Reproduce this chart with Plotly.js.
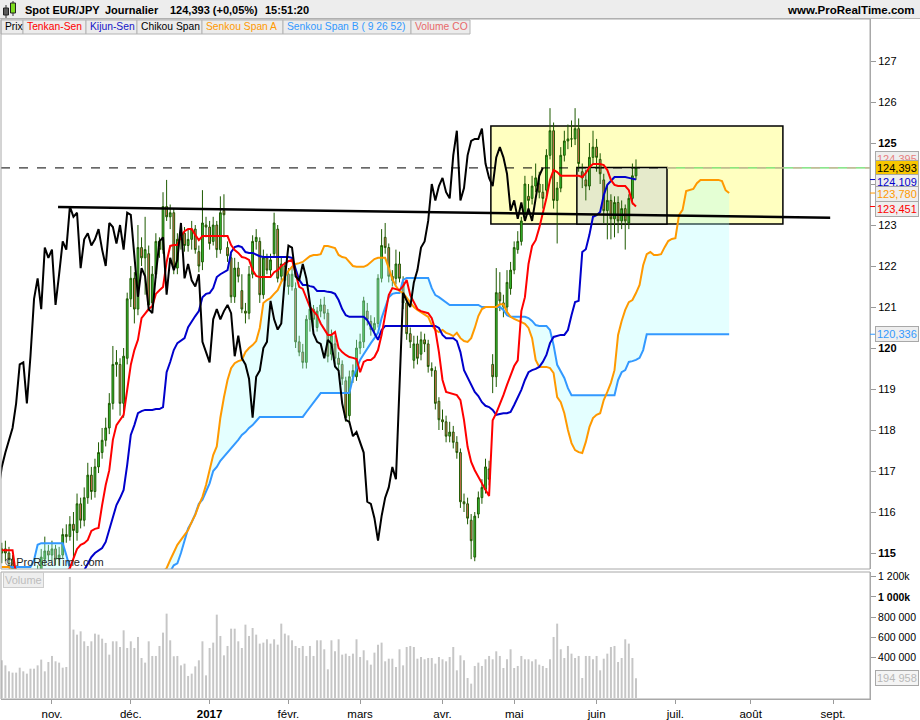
<!DOCTYPE html>
<html><head><meta charset="utf-8">
<script src="https://cdn.plot.ly/plotly-3.0.1.min.js"></script>
<style>html,body{margin:0;padding:0;background:#fff}#chart{width:920px;height:720px}</style>
</head><body><div id="chart"></div>
<script>
// ---------- DATA (EUR/JPY daily) ----------
const startDate = '2016-10-12';
const monthNames = ['janv.','févr.','mars','avr.','mai','juin','juil.','août','sept.','oct.','nov.','déc.'];

const openP = [
115.0,115.1,115.0,114.85,114.6,114.4,114.3,114.5,114.2,114.0,
114.3,114.6,114.85,115.05,114.95,115.1,114.85,114.95,115.45,115.4,
115.7,115.5,116.2,115.8,116.35,116.9,116.5,117.1,117.45,117.75,
118.05,118.65,119.6,119.6,118.65,119.75,121.2,121.7,120.95,122.45,
122.2,122.3,121.1,121.8,122.6,122.4,123.45,123.2,123.3,121.95,
122.65,122.8,122.5,122.65,122.9,122.35,122.1,123.0,122.95,122.6,
123.0,122.4,123.35,122.45,122.2,121.25,121.95,121.4,120.9,120.85,
121.8,122.6,122.6,121.3,122.2,121.9,122.3,122.9,121.75,122.0,
121.8,121.5,121.45,120.15,119.9,119.65,120.7,120.95,120.5,120.9,
121.05,120.85,119.85,120.1,119.75,119.6,119.2,118.35,119.3,119.3,
120.0,120.15,120.9,120.65,120.45,120.6,121.7,122.7,122.45,121.75,
121.7,122.05,121.6,121.1,120.35,119.7,120.1,119.85,120.2,120.1,
119.5,119.45,118.7,118.25,118.2,117.85,117.95,117.7,117.45,116.25,
116.2,115.8,114.9,115.95,116.35,116.55,117.05,119.6,119.3,121.35,
121.1,121.0,121.45,121.9,122.4,122.6,123.25,123.7,123.65,123.95,
124.0,123.8,123.85,124.7,125.3,123.6,123.9,124.7,125.05,125.1,
125.1,125.35,124.3,124.1,123.95,124.65,124.9,124.6,124.1,123.35,
123.6,123.15,123.55,123.1,123.4,123.05,123.65,124.2];
const highP = [
115.25,115.3,115.15,114.95,114.7,114.55,114.6,114.6,114.35,114.4,
114.7,115.1,115.4,115.2,115.3,115.2,115.15,115.6,115.7,115.9,
116.0,116.45,116.35,116.6,117.2,117.1,117.3,117.7,118.05,118.3,
118.9,120.05,119.95,119.75,120.0,121.35,122.0,121.85,123.0,122.7,
123.2,122.5,122.0,122.8,122.7,123.8,124.1,123.5,123.4,122.8,
123.0,122.95,122.9,123.1,123.0,122.5,123.85,123.2,123.1,123.2,
123.1,123.7,123.75,122.6,122.3,122.2,122.1,121.8,121.1,122.0,
122.75,122.9,122.7,122.4,122.3,122.3,123.3,123.0,122.2,122.1,
121.95,122.0,121.6,120.3,120.1,120.8,121.1,121.05,121.0,121.2,
121.25,120.95,120.45,120.3,119.9,119.7,119.3,119.45,119.6,120.2,
120.35,121.25,121.1,120.8,120.75,121.8,122.9,123.05,122.55,121.9,
122.4,122.35,121.75,121.2,120.5,120.3,120.3,120.4,120.35,120.2,
119.65,119.55,118.8,118.5,118.35,118.2,118.1,117.85,117.55,116.45,
116.35,115.95,116.0,116.5,116.8,117.3,117.25,119.85,121.95,121.85,
121.3,121.9,122.1,122.6,122.85,123.2,124.2,124.0,124.2,124.5,
124.3,124.0,124.85,125.85,125.5,124.05,124.9,125.3,125.45,125.55,
125.85,125.6,124.5,124.35,125.0,125.3,125.1,124.75,124.25,123.95,
123.75,123.7,123.7,123.6,123.5,123.75,124.5,124.6];
const lowP = [
114.75,114.8,114.7,114.4,114.2,114.1,114.1,114.0,113.8,113.9,
114.2,114.5,114.7,114.8,114.8,114.7,114.7,114.85,115.25,115.3,
114.8,115.3,115.6,115.65,116.2,116.3,116.35,116.95,117.3,117.6,
117.9,118.5,119.3,118.35,118.3,119.6,121.0,120.6,120.8,122.0,
121.3,120.9,120.9,121.7,122.2,122.3,123.1,122.9,121.8,121.8,
122.4,122.35,122.35,122.4,122.3,121.85,121.9,122.7,122.4,122.5,
122.2,122.3,122.7,122.1,121.1,121.1,121.6,120.85,120.6,120.7,
121.7,122.4,121.1,121.2,121.8,121.75,122.2,121.6,121.6,121.5,
121.3,121.4,120.0,119.8,119.5,119.5,120.4,120.5,120.4,120.75,
120.7,119.65,119.7,119.6,119.45,119.1,118.2,118.15,119.15,119.2,
119.85,120.0,120.55,120.3,120.3,120.5,121.6,122.3,121.6,121.5,
121.55,121.6,120.95,120.2,120.0,119.5,119.6,119.7,119.9,119.4,
119.3,118.5,118.0,118.0,117.7,117.7,117.55,117.3,116.1,116.0,
115.7,114.85,114.8,115.85,116.2,116.45,116.65,118.9,119.05,120.9,
120.75,120.85,121.3,121.8,122.3,122.5,123.1,123.3,123.5,123.8,
123.65,123.4,123.7,124.6,123.4,122.55,123.8,124.55,124.85,124.9,
124.95,124.3,123.9,123.6,123.85,124.5,124.3,124.0,123.05,122.65,
122.65,122.7,122.8,122.9,122.4,122.9,123.5,124.1];
const closeP = [
115.1,115.0,114.85,114.6,114.4,114.3,114.5,114.2,114.0,114.3,
114.6,114.9,115.05,114.95,115.1,114.85,114.95,115.45,115.4,115.7,
115.55,116.2,115.8,116.35,116.9,116.5,117.1,117.45,117.75,118.05,
118.65,119.6,119.65,118.65,119.8,121.2,121.7,120.95,122.45,122.2,
122.4,121.05,121.8,122.6,122.4,123.45,123.2,123.3,121.95,122.65,
122.8,122.5,122.65,122.9,122.4,122.0,123.05,122.95,122.55,123.0,
122.4,123.3,123.25,122.25,121.25,121.95,121.75,120.95,120.85,121.8,
122.6,122.7,121.3,122.2,121.9,122.15,123.05,121.7,122.05,121.65,
121.5,121.8,120.15,119.9,119.65,120.7,120.95,120.7,120.9,121.05,
120.85,119.8,120.3,119.75,119.6,119.25,118.3,119.3,119.45,120.0,
120.15,121.15,120.7,120.45,120.6,121.7,122.5,122.45,121.75,121.65,
122.05,121.7,121.1,120.35,120.15,120.1,119.75,120.2,120.1,119.55,
119.45,118.65,118.25,118.2,117.85,117.95,117.7,117.45,116.25,116.2,
115.85,115.3,115.9,116.35,116.6,117.1,116.8,119.3,121.35,121.15,
121.0,121.6,121.9,122.45,122.6,123.1,124.0,123.6,123.95,124.15,
123.8,123.65,124.7,125.3,123.6,123.9,124.7,125.05,125.1,125.1,
125.35,124.5,124.15,123.95,124.65,124.9,124.65,124.25,123.35,123.6,
123.15,123.55,123.1,123.4,123.1,123.65,124.2,124.393];

const tenkan = [
115.07,115.07,115.07,115.07,114.45,114.4,114.35,114.3,114.3,114.25,
114.25,114.3,114.35,114.4,114.4,114.45,114.45,114.5,114.55,114.63,
114.88,115.1,115.2,115.24,115.32,115.54,115.59,115.61,116.17,116.66,
117.02,117.76,118.12,118.24,118.37,118.98,119.59,119.95,120.2,120.73,
120.83,120.95,121.02,121.32,121.41,121.49,122.1,122.49,122.51,122.51,
122.73,122.85,122.9,122.9,122.76,122.63,122.73,122.73,122.73,122.73,
122.73,122.73,122.73,122.73,122.51,122.39,122.32,122.22,122.2,122.15,
121.9,121.76,121.73,121.73,121.73,121.73,121.85,121.9,122.0,122.07,
122.12,122.15,121.78,121.49,121.44,121.22,121.0,120.9,120.8,120.6,
120.45,120.32,120.32,120.39,120.0,119.9,119.83,119.78,119.76,119.73,
119.41,119.66,119.71,119.71,119.78,119.95,120.32,120.8,121.29,121.46,
121.44,121.41,121.51,121.66,121.29,121.1,120.95,120.9,120.88,120.85,
120.73,120.44,119.9,119.22,118.93,118.9,118.88,118.85,118.73,118.24,
117.59,117.22,117.02,116.85,116.71,116.54,116.39,118.24,118.41,118.61,
118.85,119.1,119.34,119.56,119.7,120.9,121.24,122.05,122.49,122.63,
122.93,123.29,123.66,124.1,124.34,124.29,124.2,124.2,124.2,124.2,
124.2,124.2,124.17,124.27,124.41,124.49,124.49,124.49,124.46,124.34,
124.1,123.98,123.95,123.95,123.95,123.85,123.54,123.451];

const kijun = [
114.45,114.45,114.45,114.45,114.45,114.45,114.4,114.4,114.4,114.35,
114.35,114.35,114.35,114.35,114.35,114.35,114.35,114.35,114.35,114.35,
114.4,114.45,114.5,114.58,114.76,114.9,115.0,115.05,115.12,115.27,
115.56,115.88,116.17,116.34,116.54,117.15,117.88,118.12,118.41,118.46,
118.49,118.49,118.49,118.51,118.51,118.56,119.41,119.66,119.95,120.12,
120.17,120.24,120.51,120.66,120.78,120.9,121.24,121.32,121.34,121.46,
121.73,121.8,121.85,121.9,122.34,122.46,122.49,122.46,122.34,122.32,
122.32,122.27,122.24,122.22,122.22,122.22,122.22,122.22,122.22,122.22,
122.22,122.2,121.95,121.66,121.54,121.54,121.51,121.49,121.39,121.39,
121.39,121.37,121.36,121.32,121.17,120.95,120.8,120.76,120.76,120.76,
120.76,120.76,120.68,120.51,120.37,120.2,120.44,120.54,120.54,120.54,
120.54,120.54,120.54,120.54,120.54,120.54,120.54,120.54,120.54,120.54,
120.54,120.54,120.49,120.32,120.24,120.24,120.24,120.17,119.9,119.46,
119.29,119.1,118.93,118.83,118.68,118.59,118.56,118.49,118.37,118.39,
118.41,118.41,118.44,118.61,118.78,118.98,119.22,119.41,119.46,119.49,
119.54,119.66,119.83,120.12,120.27,120.29,120.32,120.32,120.44,120.8,
121.12,121.15,122.34,122.41,122.76,123.2,123.24,123.32,123.73,123.98,
124.07,124.17,124.17,124.17,124.17,124.15,124.12,124.109];

const senkouA = [
114.66,114.66,114.66,114.5,114.45,114.4,114.35,114.3,114.3,114.25,
114.25,114.2,114.2,114.2,114.2,114.2,114.2,114.2,114.2,114.2,
114.2,114.2,114.2,114.2,114.2,114.2,114.2,114.2,114.2,114.2,
114.2,114.2,114.2,114.25,114.3,114.3,114.3,114.35,114.35,114.4,
114.4,114.45,114.45,114.5,114.5,114.55,114.63,114.83,115.02,115.2,
115.32,115.44,115.56,115.76,115.93,116.17,116.37,116.66,117.02,117.39,
117.6,118.3,118.8,119.22,119.51,119.63,119.68,119.71,119.9,120.0,
120.07,120.17,120.49,121.1,121.17,121.22,121.32,121.41,121.61,121.76,
121.88,121.98,122.05,122.07,122.1,122.17,122.24,122.27,122.27,122.29,
122.49,122.49,122.46,122.44,122.27,122.22,122.2,122.1,122.0,121.98,
121.98,121.98,122.02,122.1,122.17,122.2,122.2,122.2,121.95,121.68,
121.51,121.39,121.34,121.22,121.1,121.0,120.93,120.88,120.83,120.76,
120.56,120.44,120.39,120.44,120.37,120.34,120.29,120.37,120.24,120.17,
120.15,120.24,120.49,120.78,120.95,121.0,121.0,121.0,121.0,121.07,
121.07,120.88,120.76,120.71,120.66,120.63,120.59,120.49,120.24,119.71,
119.54,119.54,119.54,119.51,119.39,118.8,118.68,118.41,118.0,117.68,
117.51,117.46,117.44,117.71,118.07,118.29,118.37,118.41,118.73,118.93,
119.15,119.46,120.32,120.66,120.93,121.12,121.17,121.34,121.54,122.02,
122.29,122.34,122.27,122.27,122.29,122.46,122.61,122.66,122.68,123.24,
123.37,123.83,123.85,123.88,124.02,124.1,124.1,124.1,124.1,124.1,
124.1,124.07,123.85,123.78];

const senkouB = [
114.66,114.66,114.66,114.66,114.66,114.66,114.66,114.66,114.66,114.83,
115.2,115.24,115.24,115.24,115.24,115.24,115.24,115.24,114.95,114.63,
114.4,114.4,114.4,114.4,114.4,114.4,114.4,114.4,114.4,114.4,
114.4,114.4,114.4,114.4,114.4,114.4,114.4,114.4,114.4,114.4,
114.4,114.4,114.45,114.45,114.5,114.5,114.55,114.55,114.7,114.75,
115.0,115.3,115.6,115.75,115.95,116.2,116.3,116.5,116.7,117.0,
117.1,117.25,117.35,117.45,117.55,117.65,117.76,117.88,117.95,118.05,
118.12,118.22,118.32,118.32,118.32,118.32,118.32,118.32,118.32,118.32,
118.32,118.32,118.32,118.32,118.32,118.44,118.56,118.66,118.78,118.9,
118.9,118.9,118.9,118.9,118.9,118.9,118.9,118.9,119.27,119.51,
119.71,119.85,120.0,120.12,120.24,120.37,120.73,121.0,121.24,121.32,
121.34,121.34,121.66,121.71,121.71,121.71,121.71,121.71,121.71,121.71,
121.46,121.29,121.24,121.17,121.1,121.05,121.05,121.05,121.05,121.05,
121.05,121.05,121.05,121.05,121.0,121.0,121.0,121.0,121.0,121.0,
120.93,120.8,120.76,120.76,120.76,120.76,120.76,120.73,120.66,120.56,
120.54,120.54,120.54,120.44,120.07,119.59,119.41,119.27,119.02,118.85,
118.85,118.85,118.85,118.85,118.85,118.85,118.85,118.85,118.85,118.85,
118.85,118.85,119.22,119.41,119.46,119.66,119.68,119.71,119.76,119.95,
120.336,120.336,120.336,120.336,120.336,120.336,120.336,120.336,120.336,120.336,
120.336,120.336,120.336,120.336,120.336,120.336,120.336,120.336,120.336,120.336,
120.336,120.336,120.336,120.336];

// volume in thousands
const volumeK = [
373,323,264,251,251,300,264,241,290,290,
323,380,264,356,416,363,350,300,307,1198,
677,627,660,561,515,561,637,627,587,545,
429,561,561,505,670,495,561,495,604,396,
350,561,416,416,515,647,835,571,413,416,
323,340,218,241,313,373,561,224,495,548,
825,614,422,515,686,686,561,495,726,614,
693,627,538,548,581,538,581,528,736,637,
620,571,515,495,515,416,515,416,571,571,
482,284,571,462,581,429,439,416,439,581,
406,472,373,330,449,528,548,363,389,389,
307,482,323,505,515,505,389,406,383,396,
396,340,406,383,363,406,505,274,422,373,
198,142,317,350,317,383,416,383,462,416,
297,383,482,297,317,416,383,383,363,383,
330,317,297,383,604,736,482,396,515,439,
396,416,198,416,416,383,416,274,389,439,
505,515,356,396,581,538,396,194.958];

const priceTicks = [115,116,117,118,119,120,121,122,123,124,125,126,127];
const priceTickText = ['<b>115</b>','116','117','118','119','<b>120</b>','121','122','123','','<b>125</b>','126','127'];
const volTicks = [400,600,800,1000,1200];
const volTickText = ['400 000','600 000','800 000','<b>1 000k</b>','1 200k'];
const chikouShift = 26;

// ---------- calendar (weekdays) ----------
function weekdays(start, count){
  const out=[]; const d=new Date(start+'T00:00:00Z');
  while(out.length<count){ const wd=d.getUTCDay(); if(wd!==0&&wd!==6) out.push(new Date(d)); d.setUTCDate(d.getUTCDate()+1); }
  return out;
}
const cal = weekdays(startDate, 260);
const tickVals=[], tickText=[];
for(let i=1;i<cal.length;i++){
  if(cal[i].getUTCMonth()!==cal[i-1].getUTCMonth()){
    const m=cal[i].getUTCMonth();
    tickVals.push(i);
    tickText.push(m===0 ? '<b>'+cal[i].getUTCFullYear()+'</b>' : monthNames[m]);
  }
}
const idx = closeP.map((_,i)=>i);
const idxF = senkouA.map((_,i)=>i);
const chikouX = closeP.map((_,i)=>i-chikouShift);

// ---------- pixel helpers for decorations ----------
const W=920,H=720,ML=1,MR=50,MT=19,MB=21;
const PW=W-ML-MR, PH=H-MT-MB;
const px = x => (x-ML)/PW;
const py = y => (H-MB-y)/PH;
const mainDom=[py(569),1], volDom=[0,py(572)];
const FONT='Liberation Sans, Arial, sans-serif';

const traces = [
  {type:'scatter',x:idxF,y:senkouB,mode:'lines',line:{color:'#3399ff',width:2},hoverinfo:'skip',xaxis:'x',yaxis:'y'},
  {type:'scatter',x:idxF,y:senkouA,mode:'lines',line:{color:'#ff9900',width:2},fill:'tonexty',fillcolor:'rgba(170,255,255,0.32)',hoverinfo:'skip',xaxis:'x',yaxis:'y'},
  {type:'candlestick',x:idx,open:openP,high:highP,low:lowP,close:closeP,whiskerwidth:0,
    increasing:{line:{color:'#1e5a00',width:1},fillcolor:'#38c838'},
    decreasing:{line:{color:'#1e5a00',width:1},fillcolor:'#e8705e'},hoverinfo:'skip',xaxis:'x',yaxis:'y'},
  {type:'scatter',x:idx,y:kijun,mode:'lines',line:{color:'#0000cc',width:2},hoverinfo:'skip',xaxis:'x',yaxis:'y'},
  {type:'scatter',x:idx,y:tenkan,mode:'lines',line:{color:'#ff0000',width:2},hoverinfo:'skip',xaxis:'x',yaxis:'y'},
  {type:'scatter',x:chikouX,y:closeP,mode:'lines',line:{color:'#000000',width:2},hoverinfo:'skip',xaxis:'x',yaxis:'y'},
  {type:'bar',x:idx,y:volumeK,width:0.55,marker:{color:'#c6c6c6',line:{width:0}},hoverinfo:'skip',xaxis:'x',yaxis:'y2'}
];

const shapes = [];
// header background
shapes.push({type:'rect',xref:'paper',yref:'paper',x0:px(0),x1:px(920),y0:py(18.5),y1:py(0),fillcolor:'#ededed',line:{width:0},layer:'below'});
shapes.push({type:'line',xref:'paper',yref:'paper',x0:px(0),x1:px(920),y0:py(18.5),y1:py(18.5),line:{color:'#b8b8b8',width:1}});
// header icon
shapes.push({type:'line',xref:'paper',yref:'paper',x0:px(6),x1:px(6),y0:py(18),y1:py(5),line:{color:'#333',width:1}});
shapes.push({type:'rect',xref:'paper',yref:'paper',x0:px(3.5),x1:px(8.5),y0:py(15),y1:py(8),fillcolor:'#5a5a5a',line:{color:'#222',width:1}});
shapes.push({type:'line',xref:'paper',yref:'paper',x0:px(13),x1:px(13),y0:py(16),y1:py(1),line:{color:'#333',width:1}});
shapes.push({type:'rect',xref:'paper',yref:'paper',x0:px(10.5),x1:px(15.5),y0:py(13),y1:py(3),fillcolor:'#7ddc1f',line:{color:'#222',width:1}});
// legend buttons
const legendItems = [[1,23,'Prix','#000000'],[23,86,'Tenkan-Sen','#ff0000'],[86,137,'Kijun-Sen','#1414c8'],[137,202,'Chikou Span','#000000'],[202,283,'Senkou Span A','#ff9900'],[283,411,'Senkou Span B ( 9 26 52)','#3399ff'],[411,470,'Volume CO','#e86a6a']];
legendItems.forEach(it=>{
  shapes.push({type:'rect',xref:'paper',yref:'paper',x0:px(it[0]),x1:px(it[1]),y0:py(34),y1:py(20),fillcolor:'#ececec',line:{color:'#b4b4b4',width:1}});
});
// zones
shapes.push({type:'rect',xref:'x',yref:'y',x0:136.5,x1:218.0,y0:123.025,y1:125.415,fillcolor:'#ffffc0',line:{color:'#000',width:1.5},layer:'below'});
shapes.push({type:'rect',xref:'x',yref:'y',x0:160.5,x1:185.65,y0:123.025,y1:124.4,fillcolor:'#e5eacb',line:{color:'#000',width:1.5},layer:'below'});
// last price line
shapes.push({type:'line',xref:'x',yref:'y',x0:-0.223,x1:185.65,y0:124.393,y1:124.393,line:{color:'#000',width:1,dash:'dash'}});
shapes.push({type:'line',xref:'x',yref:'y',x0:185.65,x1:242.31,y0:124.393,y1:124.393,line:{color:'#66dd66',width:1.2}});
shapes.push({type:'line',xref:'x',yref:'y',x0:185.65,x1:242.31,y0:124.393,y1:124.393,line:{color:'#e8a0a0',width:1,dash:'dash'}});
// trend line
shapes.push({type:'line',xref:'x',yref:'y',x0:15.7,x1:231.2,y0:123.44,y1:123.18,line:{color:'#000',width:2.5}});
// panel frames
shapes.push({type:'rect',xref:'paper',yref:'paper',x0:0,x1:1,y0:mainDom[0],y1:1,line:{color:'#a8a8a8',width:1}});
shapes.push({type:'rect',xref:'paper',yref:'paper',x0:0,x1:1,y0:volDom[0],y1:volDom[1],line:{color:'#a8a8a8',width:1}});
// colored marks on the price axis
[[124.109,'#0000cc'],[123.78,'#ff9900'],[123.451,'#ff0000'],[120.336,'#3399ff']].forEach(m=>{
  shapes.push({type:'line',xref:'paper',yref:'y',x0:1,x1:1+5/PW,y0:m[0],y1:m[0],line:{color:m[1],width:1}});
});

const annotations = [];
[[23,'Spot EUR/JPY'],[103,'Journalier'],[168,'124,393 (+0,05%)'],[263,'15:51:20']].forEach(h=>{
  annotations.push({xref:'paper',yref:'paper',x:px(h[0]),y:py(10),xanchor:'left',yanchor:'middle',showarrow:false,text:'<b>'+h[1]+'</b>',font:{family:FONT,size:11,color:'#000'}});
});
annotations.push({xref:'paper',yref:'paper',x:px(917),y:py(10),xanchor:'right',yanchor:'middle',showarrow:false,text:'<b>www.ProRealTime.com</b>',font:{family:FONT,size:11.5,color:'#000'}});
legendItems.forEach(it=>{
  annotations.push({xref:'paper',yref:'paper',x:px(it[0]+2),y:py(27),xanchor:'left',yanchor:'middle',showarrow:false,text:it[2],font:{family:FONT,size:10.3,color:it[3]}});
});
annotations.push({xref:'paper',yref:'paper',x:px(3),y:py(562),xanchor:'left',yanchor:'middle',showarrow:false,text:'© ProRealTime.com',font:{family:FONT,size:11,color:'#222'}});
annotations.push({xref:'paper',yref:'paper',x:px(3),y:py(580),xanchor:'left',yanchor:'middle',showarrow:false,text:'Volume',font:{family:FONT,size:11,color:'#bdbdbd'},bgcolor:'#eeeeee',bordercolor:'#cccccc',borderwidth:1,borderpad:1});
const valueLabels = [
  [124.393,9,'124,395','#e88080','#eeeeee','y'],
  [124.393,0,'124,393','#000000','#f7c600','y'],
  [124.109,-2,'124,109','#0000cc','#eeeeee','y'],
  [123.78,-1,'123,780','#ff9900','#eeeeee','y'],
  [123.451,-2,'123,451','#ff0000','#eeeeee','y'],
  [120.336,0,'120,336','#3399ff','#eeeeee','y'],
  [194.958,0,'194 958','#b8b8b8','#f4f4f4','y2']
];
valueLabels.forEach(v=>{
  annotations.push({xref:'paper',yref:v[5],x:1,y:v[0],xanchor:'left',yanchor:'middle',xshift:5,yshift:v[1],showarrow:false,text:v[2],
    font:{family:FONT,size:11,color:v[3]},bgcolor:v[4],bordercolor:'#a8a8a8',borderwidth:1,borderpad:1});
});

const axisCommon = {ticks:'outside',ticklen:5,tickcolor:'#9a9a9a',showline:true,linecolor:'#a8a8a8',showgrid:false,zeroline:false,fixedrange:true};
const layout = {
  width:W,height:H,margin:{l:ML,r:MR,t:MT,b:MB,pad:0},
  paper_bgcolor:'#ffffff',plot_bgcolor:'#ffffff',showlegend:false,hovermode:false,dragmode:false,
  font:{family:FONT,size:11,color:'#000'},
  xaxis:Object.assign({},axisCommon,{range:[-0.223,242.31],tickvals:tickVals,ticktext:tickText,anchor:'y2',rangeslider:{visible:false},ticklen:4,tickfont:{size:11.5}}),
  yaxis:Object.assign({},axisCommon,{domain:mainDom,range:[114.61,128.025],side:'right',anchor:'x',tickvals:priceTicks,ticktext:priceTickText,tickfont:{size:11}}),
  yaxis2:Object.assign({},axisCommon,{domain:volDom,range:[-10,1247],side:'right',anchor:'x',tickvals:volTicks,ticktext:volTickText,tickfont:{size:10.5}}),
  shapes:shapes,annotations:annotations
};
Plotly.newPlot('chart',traces,layout,{staticPlot:true,displayModeBar:false});
</script>
</body></html>
